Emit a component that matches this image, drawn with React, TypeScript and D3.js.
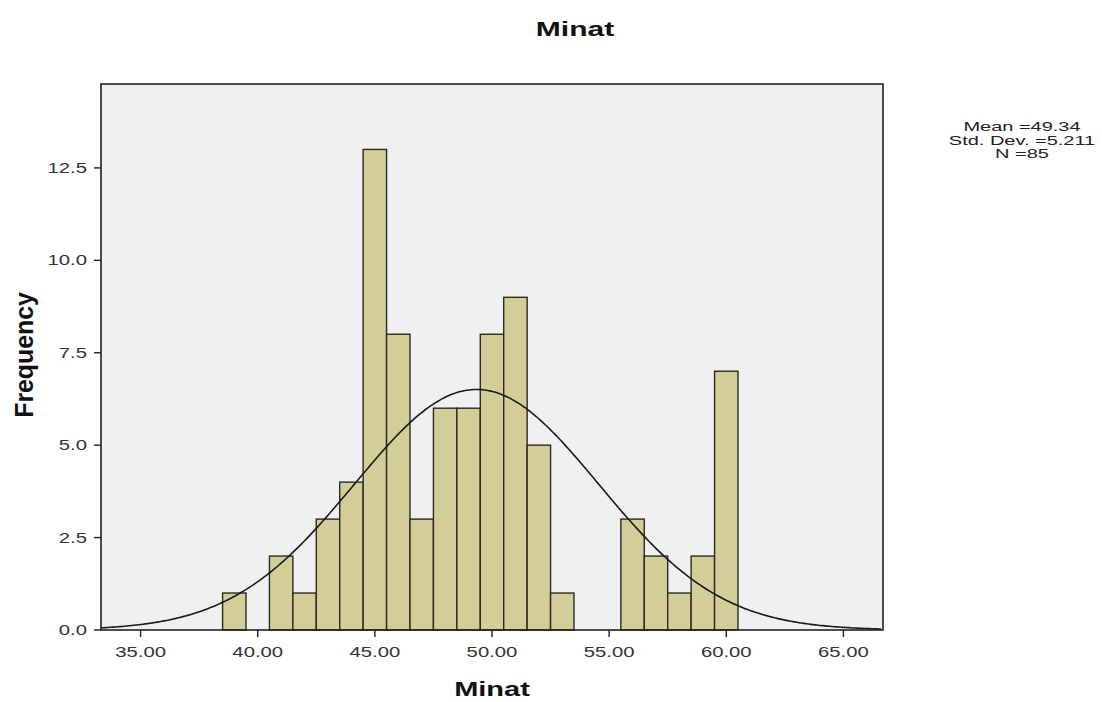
import * as d3 from 'd3';

// Histogram data: bin centres (width 1) and counts
const binCenters = [39, 40, 41, 42, 43, 44, 45, 46, 47, 48, 49, 50, 51, 52, 53, 54, 55, 56, 57, 58, 59, 60];
const counts = [1, 0, 2, 1, 3, 4, 13, 8, 3, 6, 6, 8, 9, 5, 1, 0, 0, 3, 2, 1, 2, 7];
const xTicks = [35, 40, 45, 50, 55, 60, 65];
const yTicks = [0, 2.5, 5, 7.5, 10, 12.5];
const statLines = ['Mean =49.34', 'Std. Dev. =5.211', 'N =85'];
const MEAN = 49.34;
const SD = 5.211;
const N = 85;
const BIN_W = 1;

const W = 1102;
const H = 702;
const FONT = 'Liberation Sans, Arial, sans-serif';
// the reference's text is drawn wider than it is tall
const SX = 1.45;

const at = (x: number, y: number, sx = SX) => `translate(${x},${y}) scale(${sx},1)`;

export default function App() {
  const left = 101, right = 883, top = 84, bottom = 630;
  const x = d3.scaleLinear().domain([33.31, 66.69]).range([left, right]);
  const y = d3.scaleLinear().domain([0, 14.77]).range([bottom, top]);

  const curvePts = d3.range(33.31, 66.69 + 0.01, 0.1).map(v => {
    const dens = Math.exp(-0.5 * ((v - MEAN) / SD) ** 2) / (SD * Math.sqrt(2 * Math.PI));
    return [v, dens * N * BIN_W] as [number, number];
  });
  const line = d3.line<[number, number]>().x(d => x(d[0])).y(d => y(d[1])).curve(d3.curveBasis);

  return (
    <svg width={W} height={H} style={{ position: 'absolute', left: 0, top: 0, background: '#fff' }}>
      <defs>
        <clipPath id="plot">
          <rect x={left} y={top} width={right - left} height={bottom - top} />
        </clipPath>
      </defs>

      {/* Title */}
      <text transform={at(575, 36, 1.5)} textAnchor="middle" fontFamily={FONT} fontSize={20} fontWeight={700} fill="#111">Minat</text>

      {/* Plot background */}
      <rect x={left} y={top} width={right - left} height={bottom - top} fill="#f0f0f0" />

      {/* Bars */}
      {binCenters.map((c, i) => counts[i] > 0 && (
        <rect key={c}
          x={x(c - BIN_W / 2)} y={y(counts[i])}
          width={x(c + BIN_W / 2) - x(c - BIN_W / 2)}
          height={y(0) - y(counts[i])}
          fill="#d3ce97" stroke="#2a2a22" strokeWidth={1.4} />
      ))}

      {/* Normal curve */}
      <path d={line(curvePts) ?? ''} fill="none" stroke="#1a1a1a" strokeWidth={1.6} clipPath="url(#plot)" />

      {/* Frame */}
      <rect x={left} y={top} width={right - left} height={bottom - top} fill="none" stroke="#222" strokeWidth={1.6} />

      {/* Y axis */}
      {yTicks.map(t => (
        <g key={t}>
          <line x1={left - 7} x2={left} y1={y(t)} y2={y(t)} stroke="#222" strokeWidth={1.4} />
          <text transform={at(left - 14, y(t) + 5)} textAnchor="end" fontFamily={FONT} fontSize={14} fill="#333">{t.toFixed(1)}</text>
        </g>
      ))}

      {/* X axis */}
      {xTicks.map(t => (
        <g key={t}>
          <line x1={x(t)} x2={x(t)} y1={bottom} y2={bottom + 7} stroke="#222" strokeWidth={1.4} />
          <text transform={at(x(t), bottom + 27)} textAnchor="middle" fontFamily={FONT} fontSize={14} fill="#333">{t.toFixed(2)}</text>
        </g>
      ))}

      {/* Axis titles */}
      <text transform={at((left + right) / 2, 696)} textAnchor="middle" fontFamily={FONT} fontSize={20} fontWeight={700} fill="#111">Minat</text>
      <text transform={`translate(33,${(top + bottom) / 2 - 2}) rotate(-90) scale(1.38,1.4)`} textAnchor="middle" fontFamily={FONT} fontSize={18} fontWeight={700} fill="#111">Frequency</text>

      {/* Stats */}
      {statLines.map((s, i) => (
        <text key={s} transform={at(1022, 131 + i * 13.5, 1.6)} textAnchor="middle" fontFamily={FONT} fontSize={12.5} fill="#222">{s}</text>
      ))}
    </svg>
  );
}
